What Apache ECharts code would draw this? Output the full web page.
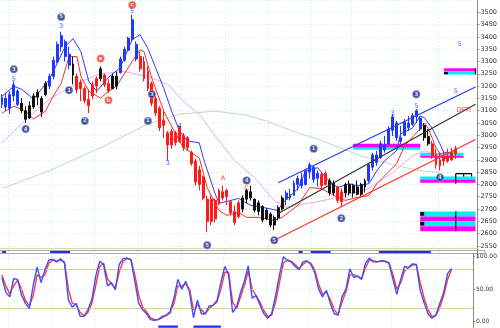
<!DOCTYPE html>
<html><head><meta charset="utf-8">
<script src="https://cdn.jsdelivr.net/npm/echarts@6/dist/echarts.min.js"></script>
<style>html,body{margin:0;padding:0;background:#fff}#c{width:500px;height:328px}</style>
</head><body><div id="c"></div>
<script>
// ---------- data ----------
const barOpen = [3125,3150,3110,3160,3180,3130,3100,3070,3115,3155,
3150,3165,3200,3240,3300,3360,3380,3330,3290,3240,
3190,3190,3145,3160,3200,3230,3245,3210,3190,3240,
3255,3305,3345,3390,3370,3320,3300,3260,3210,3150,
3110,3040,3010,2960,3010,2975,3000,2950,2930,2895,
2800,2830,2740,2650,2735,2720,2770,2750,2730,2690,
2670,2700,2740,2770,2740,2690,2710,2660,2680,2635,
2665,2700,2740,2760,2755,2800,2820,2800,2850,2870,
2825,2840,2800,2815,2765,2790,2730,2765,2800,2765,
2790,2760,2790,2815,2870,2920,2910,2960,2965,3020,
3050,2990,3000,3050,3045,3075,3070,3040,2995,2965,
2920,2875,2895,2910,2900,2925];
const barClose = [3155,3115,3165,3205,3125,3100,3065,3120,3160,3175,
3095,3210,3240,3305,3370,3405,3320,3285,3245,3185,
3215,3140,3120,3205,3230,3270,3205,3180,3240,3200,
3310,3350,3395,3470,3310,3270,3230,3190,3130,3090,
3030,3060,2960,3015,2970,3030,2950,2990,2885,2810,
2860,2745,2650,2740,2660,2775,2745,2775,2685,2645,
2725,2745,2775,2745,2695,2725,2655,2695,2635,2665,
2705,2745,2765,2745,2805,2825,2795,2855,2880,2820,
2845,2795,2845,2765,2805,2735,2770,2800,2765,2795,
2760,2800,2815,2880,2920,2890,2965,2940,3025,3075,
2990,2975,3055,3030,3080,3100,3025,2990,2965,2915,
2880,2900,2915,2895,2930,2945];
const barLow = [3110,3098,3086,3138,3118,3090,3050,3066,3106,3122,
3074,3159,3187,3227,3292,3340,3300,3268,3207,3171,
3138,3130,3090,3147,3171,3219,3195,3171,3187,3187,
3251,3300,3340,3381,3300,3259,3219,3179,3118,3078,
3017,2989,2896,2945,2957,2969,2937,2937,2876,2795,
2775,2735,2606,2634,2646,2715,2735,2715,2674,2634,
2662,2686,2723,2735,2686,2674,2646,2654,2626,2614,
2654,2694,2715,2735,2755,2775,2783,2795,2824,2807,
2791,2783,2795,2755,2755,2723,2707,2747,2755,2747,
2755,2751,2767,2807,2856,2876,2904,2929,2957,2997,
2977,2965,2997,3017,3038,3050,3017,2977,2957,2904,
2864,2856,2876,2888,2896,2904];
const barHigh = [3167,3171,3179,3219,3187,3151,3118,3138,3171,3187,
3159,3219,3251,3320,3381,3421,3389,3360,3320,3251,
3227,3199,3187,3219,3239,3280,3251,3227,3251,3259,
3320,3360,3401,3490,3381,3340,3320,3280,3219,3159,
3118,3098,3017,3025,3017,3038,3009,2997,2937,2904,
2876,2836,2755,2755,2743,2783,2795,2783,2735,2715,
2735,2755,2783,2795,2743,2735,2715,2703,2686,2674,
2715,2755,2775,2783,2816,2836,2848,2864,2888,2876,
2856,2848,2856,2824,2816,2795,2783,2807,2816,2803,
2816,2807,2824,2888,2929,2937,2977,2997,3038,3086,
3058,3038,3066,3078,3090,3106,3078,3050,3025,2977,
2945,2929,2937,2945,2949,2957];
// wave colour of each bar: b = blue, r = red, k = black
const barWave = ('bbbbbkkkkkkkbbbbbbkrrrrrrkrrkkbbbbb' + 'rrrrrrrrrrrrrrrrrrrrrrrrrr' +
  'kkkkkkkkkkk' + 'bbbbbbbbb' + 'rrkkrr' + 'kkkkkk' + 'bbbbbbbbbbbbbb' + 'kk' + 'rrrrrrr').split('');

// moving averages: [bar, price]
const maBlue = [[0,3159],[3,3199],[5,3187],[8,3147],[10,3187],[12,3227],[14,3292],[16,3360],[18,3393],[20,3340],
[22,3219],[24,3179],[27,3235],[30,3276],[33,3389],[35,3409],[37,3352],[39,3272],[41,3191],[43,3098],[45,3017],
[47,2977],[50,2969],[51,2908],[54,2763],[55,2723],[58,2735],[60,2743],[63,2715],[66,2707],[70,2694],[71,2723],
[75,2783],[77,2856],[80,2868],[82,2828],[85,2787],[88,2803],[90,2795],[93,2803],[95,2856],[97,2896],[100,2937],
[101,3005],[104,3029],[106,3078],[107,3072],[109,3029],[111,2965],[112,2929],[114,2929],[115,2945]];
const maRed = [[0,3090],[3,3118],[6,3098],[8,3066],[11,3098],[13,3159],[15,3211],[17,3320],[19,3320],[20,3239],
[22,3179],[25,3151],[27,3179],[29,3199],[33,3300],[35,3348],[36,3340],[38,3231],[41,3098],[44,3005],[46,2949],
[50,2908],[52,2787],[55,2694],[57,2674],[60,2686],[62,2666],[65,2666],[69,2654],[71,2666],[75,2715],[78,2787],
[81,2783],[85,2747],[87,2735],[90,2747],[93,2755],[95,2803],[100,2884],[102,2957],[105,3009],[107,3050],
[108,3029],[110,2949],[112,2904],[115,2916]];
const maPink = [[0,2969],[1,2985],[7,3078],[12,3147],[19,3211],[25,3251],[31,3259],[37,3239],[42,3207],[46,3138],
[50,3086],[55,2977],[59,2896],[64,2828],[69,2735],[72,2707],[75,2715],[84,2743],[93,2783],[99,2848],[104,2916],
[107,2937],[111,2916],[115,2929]];
const maLong = [[0,2783],[12,2856],[25,2949],[37,3046],[45,3086],[54,3098],[62,3082],[67,3058],[75,3009],[80,2985],
[91,2916],[100,2876],[106,2856],[111,2848]];

// trend channel
const channelUpper = [[70,2807],[120,3196]];
const channelMid = [[70,2682],[120,3126]];
const channelLow = [[69,2573],[120,2983]];

// target zones: [fromBar, toBar, low, high, kind]
const zones = [
  [89,106,2949,2965,'m'],[89,106,2941,2949,'c'],
  [106,117,2916,2929,'c'],[106,117,2908,2916,'m'],
  [106,120,2820,2832,'c'],[106,120,2807,2820,'m'],
  [112,120,3259,3272,'m'],[112,120,3247,3259,'c'],
  [106,120,2670,2690,'c'],[106,120,2650,2670,'m'],[106,120,2630,2650,'c'],[106,120,2610,2630,'m'],
  [106,107,2673,2688,'k'],[106,107,2633,2648,'k'],[112,113,3248,3257,'k']
];
const zoneMarks = [
  [[115,2610],[115,2690]], [[120,3247],[120,3272]], [[115,2803],[115,2844]],
  [[115,2844],[119,2844]], [[117,2844],[117,2832]], [[119,2844],[119,2832]]
];

// wave labels: [bar, price, text, kind]
const circleLabels = [[3,3268,'3','b'],[6,3025,'4','b'],[15,3481,'5','b'],[17,3183,'1','b'],[21,3058,'2','b'],
[25,3312,'a','r'],[27,3142,'b','r'],[33,3530,'c','r'],[38,3167,'3','b'],[37,3058,'1','b'],[52,2553,'5','b'],
[62,2816,'4','b'],[69,2573,'5','b'],[79,2945,'1','b'],[86,2662,'2','b'],[105,3167,'3','b'],[111,2828,'4','b']];
const textLabels = [[3,3227,'5','b'],[15,3441,'3','b'],[33,3502,'5','b'],[56,2824,'A','r'],[99,3090,'3','b'],
[105,3118,'5','b'],[42,2884,'3','b'],[45,3038,'4','k'],[116,3368,'5','b'],[115,3179,'5','b'],[117,3102,'DFTI','r'],
[62,2783,'C','r']];

// signal strips: [fromBar, toBar]
const stripSignals = [[0,1],[12,17],[74,75],[77,82],[94,107]];
const stochSignals = [[40,45],[49,56]];

// stochastic %K and %D
const stochK = [68,45,38,66,65,41,28,20,56,84,
60,80,95,96,92,97,90,33,22,28,
8,8,18,34,70,93,88,55,60,49,
88,97,98,95,62,28,18,12,3,2,
3,8,10,15,36,65,50,62,45,6,
33,12,12,24,25,32,60,85,72,14,
22,44,62,86,36,40,26,12,5,12,
40,72,100,94,92,85,80,92,94,88,
76,50,38,48,28,12,10,38,50,81,
68,70,65,90,98,92,92,94,93,90,
66,42,65,85,83,89,88,48,29,12,
5,10,28,45,74,82];
const stochD = [72,55,42,55,64,50,33,24,40,72,
68,72,90,95,93,95,92,50,28,26,
14,9,14,28,56,85,90,66,58,52,
76,93,97,96,72,40,22,15,6,3,
3,6,9,13,28,55,55,58,50,18,
26,18,12,20,25,30,50,76,76,30,
20,37,55,78,50,40,30,17,8,10,
30,60,90,95,93,88,82,88,93,90,
80,58,42,46,34,18,11,30,46,72,
72,70,66,83,95,94,92,93,93,91,
73,50,60,78,83,87,88,60,36,18,
8,9,22,40,65,80];
const stochTicks = [0,50,100];

const gridCols = [2,13,24,35,46,57,68,79,89,100,111];
const NCAT = 121;

// ---------- chart ----------
const cats = Array.from({length: NCAT}, (_, i) => String(i));
const WAVE = {b:'#1f38ff', r:'#ff1a1a', k:'#111111'};
const ZONE = {m:'#ff00ff', c:'#00f0f0', k:'#000000'};
const candleData = barOpen.map((o, i) => {
  const c = WAVE[barWave[i]];
  return {value:[o, barClose[i], barLow[i], barHigh[i]], itemStyle:{color:c, color0:c, borderColor:c, borderColor0:c}};
});
const gridLine = {show:true, lineStyle:{color:'#c9ecec', type:[1,2], width:1}};
const xCat = (gi, split) => ({type:'category', data:cats, gridIndex:gi, boundaryGap:true,
  axisLine:{show:false}, axisTick:{show:false}, axisLabel:{show:false},
  splitLine: split ? Object.assign({interval:(idx)=>gridCols.indexOf(idx) >= 0}, gridLine) : {show:false}});
const line = (data, color, w, xi, yi, z) => ({type:'line', data, xAxisIndex:xi||0, yAxisIndex:yi||0, symbol:'none',
  lineStyle:{color, width:w}, z:z||3, silent:true, animation:false});

const series = [];
series.push({type:'candlestick', data:candleData, barWidth:2.4, z:5, animation:false,
  markArea:{silent:true, data: zones.map(zn => [{xAxis:zn[0], yAxis:zn[2], itemStyle:{color:ZONE[zn[4]], opacity:1}}, {xAxis:zn[1], yAxis:zn[3]}])},
  markLine:{silent:true, symbol:'none', label:{show:false}, lineStyle:{color:'#d9d9a6', type:'solid', width:1}, data:[{yAxis:2541}]}
});
series.push(line(maLong, '#c6d8bd', 1));
series.push(line(maPink, '#f2a8e8', 1));
series.push(line(maRed, '#ff2c2c', 1));
series.push(line(maBlue, '#3b3bf0', 1));
series.push(line(channelUpper, '#2b3cf5', 1.2, 0, 0, 6));
series.push(line(channelMid, '#333333', 1.2, 0, 0, 6));
series.push(line(channelLow, '#ff2f2f', 1.2, 0, 0, 6));
zoneMarks.forEach(m => series.push(line(m, '#000000', 1.2, 0, 0, 7)));
series.push({type:'scatter', z:8, animation:false, silent:true, symbol:'circle', symbolSize:8,
  data: circleLabels.map(l => ({name:l[2], value:[l[0], l[1]], itemStyle:{color: l[3]==='r' ? '#e83a2a' : '#1c2a8a', borderColor:'#fff', borderWidth:0.5}})),
  label:{show:true, position:'inside', formatter:p=>p.name, color:'#fff', fontSize:5.5, fontWeight:'bold', fontFamily:'DejaVu Sans'}});
series.push({type:'scatter', z:8, animation:false, silent:true, symbolSize:0,
  data: textLabels.map(l => ({name:l[2], value:[l[0], l[1]], label:{color: WAVE[l[3]]}})),
  label:{show:true, position:'inside', formatter:p=>p.name, fontSize:6.5, fontFamily:'DejaVu Sans'}});
// signal strip
stripSignals.forEach(s => series.push(line([[s[0],0.5],[s[1],0.5]], '#1f2fe8', 2.2, 1, 1, 4)));
// stochastic
series.push(Object.assign(line(stochD, '#ff3b3b', 1.4, 2, 2, 4), {
  markLine:{silent:true, symbol:'none', label:{show:false}, data:[
    {yAxis:80, lineStyle:{color:'#d2cf96', type:'solid', width:1}},
    {yAxis:20, lineStyle:{color:'#d2cf96', type:'solid', width:1}},
    {yAxis:50, lineStyle:{color:'#c9ecec', type:[1,2], width:1}}]}}));
series.push(line(stochK, '#3f4cff', 1.4, 2, 2, 5));
stochSignals.forEach(s => series.push(line([[s[0],-8],[s[1],-8]], '#1f2fe8', 2.2, 2, 2, 4)));

const option = {
  backgroundColor:'#ffffff',
  animation:false,
  grid:[
    {left:0, right:15, top:-2, height:260.2},
    {left:0, right:15, top:250.5, height:3, show:true, borderColor:'#a9a9a9', borderWidth:1, backgroundColor:'#ffffff'},
    {left:0, right:15, top:253.5, height:74.5}
  ],
  xAxis:[xCat(0,true), xCat(1,false), xCat(2,true)],
  yAxis:[
    {type:'value', gridIndex:0, position:'right', min:2500, max:3550, interval:50,
     axisLine:{show:true, lineStyle:{color:'#8e8e78'}}, axisTick:{show:true, length:2, lineStyle:{color:'#8e8e78'}},
     axisLabel:{fontSize:6.5, color:'#333', margin:3, showMinLabel:false, showMaxLabel:false, fontFamily:'DejaVu Sans',
       formatter:v => String(v)},
     splitLine:gridLine},
    {type:'value', gridIndex:1, min:0, max:1, show:false},
    {type:'value', gridIndex:2, position:'right', min:-10, max:105,
     axisLine:{show:true, lineStyle:{color:'#8e8e78'}},
     axisTick:{show:true, length:2, customValues:stochTicks, lineStyle:{color:'#8e8e78'}},
     axisLabel:{fontSize:6, color:'#333', margin:3, customValues:stochTicks, fontFamily:'DejaVu Sans',
       showMinLabel:true, showMaxLabel:true, formatter:v => Number(v).toFixed(2)},
     splitLine:{show:false}}
  ],
  series
};
const chart = echarts.init(document.getElementById('c'), null, {renderer:'canvas'});
chart.setOption(option);
</script>
</body></html>
